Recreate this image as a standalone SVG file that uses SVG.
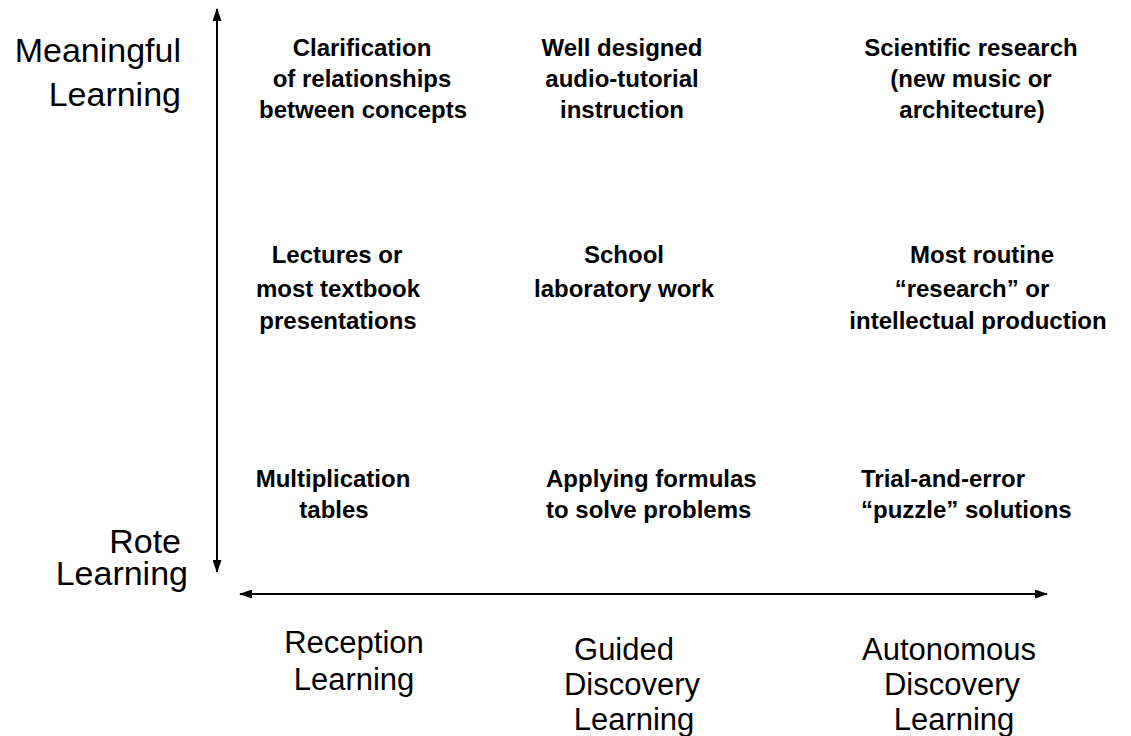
<svg xmlns="http://www.w3.org/2000/svg" width="1131" height="736" viewBox="0 0 1131 736">
<style>
.axis{font-family:"Liberation Sans",Arial,sans-serif;font-size:31px;fill:#000}
.big{font-size:34px}
.cell{font-family:"Liberation Sans",Arial,sans-serif;font-size:24px;font-weight:bold;fill:#000}
.c{text-anchor:middle}
.r{text-anchor:end}
.ln{stroke:#000;stroke-width:2;fill:none}
</style>
<defs>
<marker id="ah" viewBox="0 0 13 9" refX="12" refY="4.5" markerWidth="13" markerHeight="9" markerUnits="userSpaceOnUse" orient="auto-start-reverse">
<path d="M0,0 L13,4.5 L0,9 Z" fill="#000"/>
</marker>
</defs>
<g id="connectors">
<line class="ln" x1="217" y1="572" x2="217" y2="9" marker-end="url(#ah)" marker-start="url(#ah)"/>
<line class="ln" x1="240" y1="594" x2="1047" y2="594" marker-end="url(#ah)" marker-start="url(#ah)"/>
</g>
<g id="axis-meaningful"><text class="axis big r" x="181" y="62">Meaningful</text><text class="axis big r" x="181" y="106">Learning</text></g>
<g id="axis-rote"><text class="axis big r" x="181" y="553">Rote</text><text class="axis big r" x="188" y="585">Learning</text></g>
<g id="axis-reception"><text class="axis c" x="354" y="653">Reception</text><text class="axis c" x="354" y="690">Learning</text></g>
<g id="axis-guided"><text class="axis c" x="624" y="660">Guided</text><text class="axis c" x="632" y="695">Discovery</text><text class="axis c" x="634" y="730">Learning</text></g>
<g id="axis-autonomous"><text class="axis c" x="949" y="660">Autonomous</text><text class="axis c" x="952" y="695">Discovery</text><text class="axis c" x="954" y="730">Learning</text></g>
<g id="cell-clarification"><text class="cell c" x="362" y="56">Clarification</text><text class="cell c" x="362" y="87">of relationships</text><text class="cell c" x="363" y="118">between concepts</text></g>
<g id="cell-audio"><text class="cell c" x="622" y="56">Well designed</text><text class="cell c" x="622" y="87">audio-tutorial</text><text class="cell c" x="622" y="118">instruction</text></g>
<g id="cell-scientific"><text class="cell c" x="971" y="56">Scientific research</text><text class="cell c" x="971" y="87">(new music or</text><text class="cell c" x="972" y="118">architecture)</text></g>
<g id="cell-lectures"><text class="cell c" x="337" y="263">Lectures or</text><text class="cell c" x="338" y="297">most textbook</text><text class="cell c" x="338" y="329">presentations</text></g>
<g id="cell-school"><text class="cell c" x="624" y="263">School</text><text class="cell c" x="624" y="297">laboratory work</text></g>
<g id="cell-routine"><text class="cell c" x="982" y="263">Most routine</text><text class="cell c" x="972" y="297">“research” or</text><text class="cell c" x="978" y="329">intellectual production</text></g>
<g id="cell-multiplication"><text class="cell c" x="333" y="487">Multiplication</text><text class="cell c" x="334" y="518">tables</text></g>
<g id="cell-formulas"><text class="cell" x="546" y="487">Applying formulas</text><text class="cell" x="546" y="518">to solve problems</text></g>
<g id="cell-trial"><text class="cell" x="861" y="487">Trial-and-error</text><text class="cell" x="861" y="518">“puzzle” solutions</text></g>
</svg>
